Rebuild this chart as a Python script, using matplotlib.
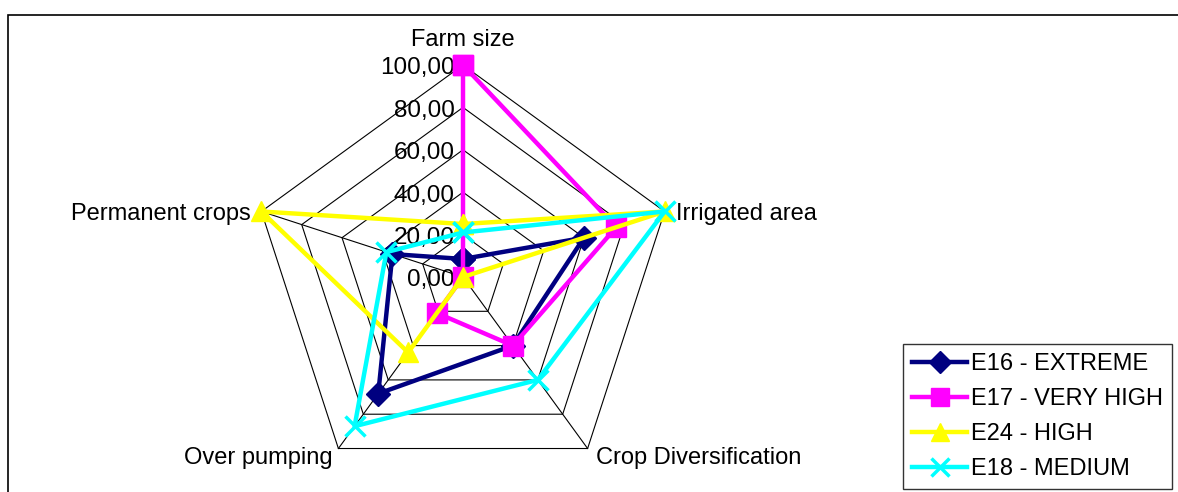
import numpy as np
import matplotlib
matplotlib.use("Agg")
from matplotlib import pyplot as plt
from matplotlib.patches import Rectangle

plt.rcParams['font.family'] = ['Liberation Sans', 'DejaVu Sans']

# radar categories and scores (0-100)
categories = ["Farm size", "Irrigated area", "Crop Diversification",
              "Over pumping", "Permanent crops"]
e16_extreme = [8.5, 60, 40, 68, 35]
e17_very_high = [100, 76, 40, 21, 0]
e24_high = [25, 100, 0, 44, 100]
e18_medium = [21, 100, 60, 87, 38]
series_names = ["E16 - EXTREME", "E17 - VERY HIGH", "E24 - HIGH", "E18 - MEDIUM"]
levels = [0, 20, 40, 60, 80, 100]
level_labels = ["0,00", "20,00", "40,00", "60,00", "80,00", "100,00"]

series = [e16_extreme, e17_very_high, e24_high, e18_medium]
colors = ["#000080", "#FF00FF", "#FFFF00", "#00FFFF"]
markers = ["D", "s", "^", "x"]
msizes = [12, 14, 14, 15]

fig = plt.figure(figsize=(11.78, 4.92), dpi=100)
# outer chart frame
fig.patches.append(Rectangle((8 / 1178, -0.1), 1.2, 1.1 - 15 / 492,
                             transform=fig.transFigure, fill=False,
                             edgecolor="black", lw=1.2))

ax = fig.add_axes([251 / 1178, 3 / 492, 424 / 1178, 424 / 492],
                  projection="polar")
ax.set_theta_offset(np.pi / 2)
ax.set_theta_direction(-1)
ax.set_ylim(0, 100)
ax.grid(False)
ax.spines["polar"].set_visible(False)
ax.set_xticks([])
ax.set_yticks([])
ax.patch.set_alpha(0)

n = len(categories)
theta = np.arange(n) * 2 * np.pi / n
theta_closed = np.append(theta, theta[0])

# pentagon grid and spokes
for lv in levels[1:]:
    ax.plot(theta_closed, [lv] * (n + 1), color="black", lw=0.8, zorder=1,
            clip_on=False)
for t in theta:
    ax.plot([t, t], [0, 100], color="black", lw=0.8, zorder=1, clip_on=False)

# value axis labels along the top spoke
for lv, lab in zip(levels, level_labels):
    ax.annotate(lab, xy=(0, lv), xytext=(-6, -2.5), textcoords="offset points",
                ha="right", va="center", fontsize=17.5, zorder=2,
                annotation_clip=False)

# category labels
label_pos = [(0, 10, "center", "bottom"), (8, -1.5, "left", "center"),
             (6, 1, "left", "top"), (-4, 1, "right", "top"),
             (-8, -1.5, "right", "center")]
for t, name, (dx, dy, ha, va) in zip(theta, categories, label_pos):
    ax.annotate(name, xy=(t, 100), xytext=(dx, dy), textcoords="offset points",
                ha=ha, va=va, fontsize=17, annotation_clip=False)

for i, (vals, name) in enumerate(zip(series, series_names)):
    ax.plot(theta_closed, vals + vals[:1], color=colors[i], lw=3.2,
            marker=markers[i], markersize=msizes[i],
            markeredgewidth=2.5 if markers[i] == "x" else 1,
            markeredgecolor=colors[i], label=name, zorder=3 + i, clip_on=False)

leg = fig.legend(loc="upper left", bbox_to_anchor=(903 / 1178, 1 - 344 / 492),
                 fontsize=17, frameon=True, fancybox=False, edgecolor="black",
                 handlelength=2.35, handletextpad=0.15, labelspacing=0.55,
                 borderpad=0.38, borderaxespad=0, markerscale=0.9)
leg.get_frame().set_linewidth(1)

fig.savefig("out.png", dpi=100)
